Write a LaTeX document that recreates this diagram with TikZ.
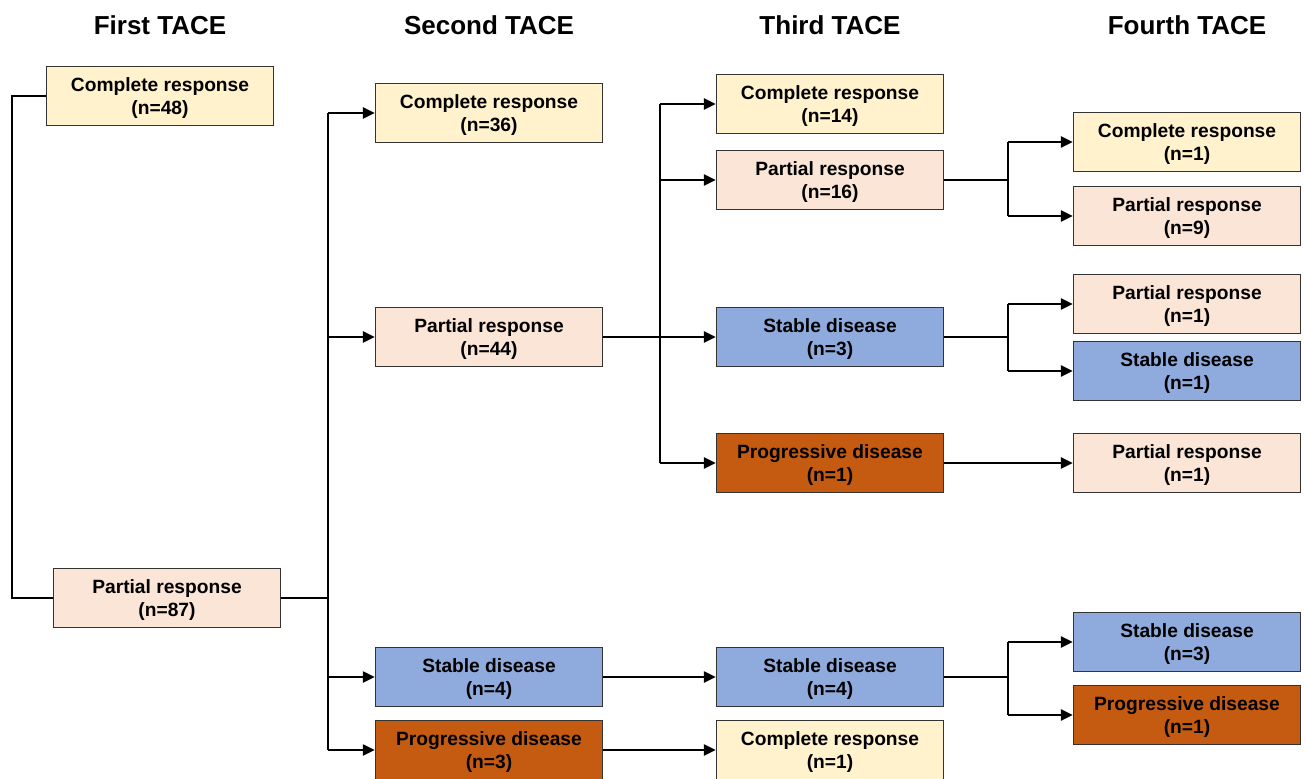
\documentclass[tikz,border=0pt]{standalone}
\usepackage{fontspec}
\setmainfont{Liberation Sans}
\usepackage{xcolor}
\usepackage{tikz}
\usetikzlibrary{arrows.meta}
\definecolor{crFill}{HTML}{FFF2CC}
\definecolor{prFill}{HTML}{FBE5D6}
\definecolor{sdFill}{HTML}{8FAADC}
\definecolor{pdFill}{HTML}{C55A11}
\definecolor{boxLine}{HTML}{333333}

\tikzset{
  resp/.style={draw=boxLine, line width=0.7pt, minimum width=113.5pt, minimum height=29.5pt,
    inner sep=0pt, text depth=-1pt, align=center, font=\fontsize{9.6}{11.2}\selectfont\bfseries},
  crBox/.style={resp, fill=crFill},
  prBox/.style={resp, fill=prFill},
  sdBox/.style={resp, fill=sdFill},
  pdBox/.style={resp, fill=pdFill},
  hdr/.style={font=\fontsize{13}{15}\selectfont\bfseries},
  link/.style={line width=1.2pt},
  arr/.style={link, -{Triangle[length=6pt, width=5.5pt]}},
}

\begin{document}
\begin{tikzpicture}[x=0.5pt, y=-0.5pt]
  \useasboundingbox (0,0) rectangle (1305,778);

  % ── column headers
  \node[hdr] (h1) at (160, 25) {First TACE};
  \node[hdr] (h2) at (489, 25) {Second TACE};
  \node[hdr] (h3) at (830, 25) {Third TACE};
  \node[hdr] (h4) at (1187, 25) {Fourth TACE};

  % ── first TACE
  \node[crBox] (cr1) at (160, 96) {Complete response\\(n=48)};
  \node[prBox] (pr1) at (167, 598) {Partial response\\(n=87)};

  % ── second TACE
  \node[crBox] (cr2) at (489, 113) {Complete response\\(n=36)};
  \node[prBox] (pr2) at (489, 337) {Partial response\\(n=44)};
  \node[sdBox] (sd2) at (489, 677) {Stable disease\\(n=4)};
  \node[pdBox] (pd2) at (489, 750) {Progressive disease\\(n=3)};

  % ── third TACE
  \node[crBox] (cr3) at (830, 104) {Complete response\\(n=14)};
  \node[prBox] (pr3) at (830, 180) {Partial response\\(n=16)};
  \node[sdBox] (sd3) at (830, 337) {Stable disease\\(n=3)};
  \node[pdBox] (pd3) at (830, 463) {Progressive disease\\(n=1)};
  \node[sdBox] (sd3b) at (830, 677) {Stable disease\\(n=4)};
  \node[crBox] (cr3b) at (830, 750) {Complete response\\(n=1)};

  % ── fourth TACE
  \node[crBox] (cr4) at (1187, 142) {Complete response\\(n=1)};
  \node[prBox] (pr4) at (1187, 216) {Partial response\\(n=9)};
  \node[prBox] (pr4a) at (1187, 304) {Partial response\\(n=1)};
  \node[sdBox] (sd4a) at (1187, 371) {Stable disease\\(n=1)};
  \node[prBox] (pr4b) at (1187, 463) {Partial response\\(n=1)};
  \node[sdBox] (sd4b) at (1187, 642) {Stable disease\\(n=3)};
  \node[pdBox] (pd4b) at (1187, 715) {Progressive disease\\(n=1)};

  % ── branch points
  \coordinate (lft) at (12, 598);
  \coordinate (b1) at (328, 598);
  \coordinate (b2) at (660, 337);
  \coordinate (b3) at (1008, 180);
  \coordinate (b4) at (1008, 337);
  \coordinate (b5) at (1008, 677);

  % ── first -> first (thin return line)
  \draw[line width=0.6pt] (cr1.west) -| (lft) -- (pr1.west);

  % ── first PR -> second
  \draw[link] (pr1.east) -- (b1);
  \draw[link] (b1 |- cr2.west) -- (b1 |- pd2.west);
  \foreach \t in {cr2, pr2, sd2, pd2}
    \draw[arr] (b1 |- \t.west) -- (\t.west);

  % ── second PR -> third
  \draw[link] (pr2.east) -- (b2);
  \draw[link] (b2 |- cr3.west) -- (b2 |- pd3.west);
  \foreach \t in {cr3, pr3, sd3, pd3}
    \draw[arr] (b2 |- \t.west) -- (\t.west);
  \draw[arr] (sd2.east) -- (sd3b.west);
  \draw[arr] (pd2.east) -- (cr3b.west);

  % ── third -> fourth
  \draw[link] (pr3.east) -- (b3);
  \draw[link] (b3 |- cr4.west) -- (b3 |- pr4.west);
  \foreach \t in {cr4, pr4}
    \draw[arr] (b3 |- \t.west) -- (\t.west);
  \draw[link] (sd3.east) -- (b4);
  \draw[link] (b4 |- pr4a.west) -- (b4 |- sd4a.west);
  \foreach \t in {pr4a, sd4a}
    \draw[arr] (b4 |- \t.west) -- (\t.west);
  \draw[arr] (pd3.east) -- (pr4b.west);
  \draw[link] (sd3b.east) -- (b5);
  \draw[link] (b5 |- sd4b.west) -- (b5 |- pd4b.west);
  \foreach \t in {sd4b, pd4b}
    \draw[arr] (b5 |- \t.west) -- (\t.west);
\end{tikzpicture}
\end{document}
